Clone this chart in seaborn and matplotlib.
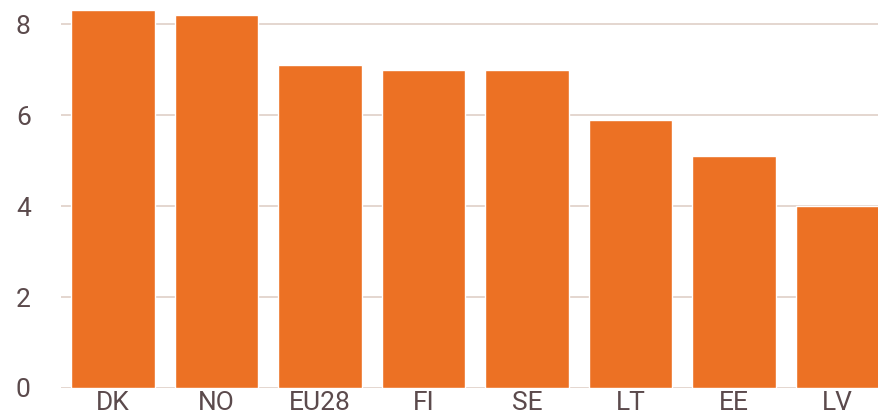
import pandas as pd
import seaborn as sns
import matplotlib.pyplot as plt

# ================== data ==================
countries = ["DK", "NO", "EU28", "FI", "SE", "LT", "EE", "LV"]
values = [8.3, 8.2, 7.1, 7.0, 7.0, 5.9, 5.1, 4.0]
y_ticks = [0, 2, 4, 6, 8]

df = pd.DataFrame({"country": countries, "value": values})

# ================== style ==================
sns.set_theme(style="white")
plt.rcParams["font.family"] = ["Roboto", "DejaVu Sans"]

bar_color = "#EC7124"
grid_color = "#E2D3CB"
text_color = "#5B4A4C"

fig = plt.figure(figsize=(8.79, 4.19), dpi=100)
ax = fig.add_axes([0.0697, 0.074, 0.9303, 0.926])

sns.barplot(data=df, x="country", y="value", color=bar_color,
            saturation=1, width=0.81, ax=ax, zorder=3)

ax.set_xlim(-0.5, 7.4)
ax.set_ylim(0, 8.53)
ax.set_yticks(y_ticks)
ax.yaxis.grid(True, color=grid_color, linewidth=1.3, zorder=0)
ax.set_axisbelow(True)
for s in ax.spines.values():
    s.set_visible(False)

ax.tick_params(axis="both", length=0, labelsize=19, colors=text_color)
ax.tick_params(axis="y", pad=22)
ax.tick_params(axis="x", pad=2)
ax.set_xlabel("")
ax.set_ylabel("")

plt.savefig("out.png", dpi=100)
plt.close()
